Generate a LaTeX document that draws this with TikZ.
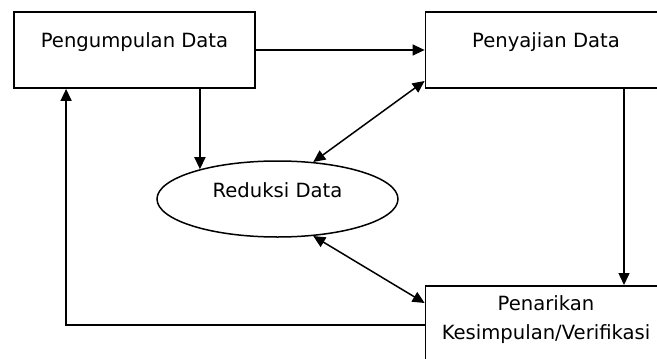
\documentclass[tikz,border=0pt]{standalone}
\usepackage{fontspec}
\setmainfont{DejaVu Sans}
\usetikzlibrary{arrows.meta, positioning, shapes.geometric}

\begin{document}
\begin{tikzpicture}[x=0.5pt, y=-0.5pt,
    font=\fontsize{9.8pt}{14.5pt}\selectfont,
    stagebox/.style={draw, line width=0.9pt, minimum width=120.5pt, minimum height=38pt,
        inner sep=0pt, text height=7pt, text depth=9pt},
    conclbox/.style={draw, line width=0.9pt, minimum width=120.5pt, align=center,
        inner ysep=5pt, text depth=25pt, anchor=north},
    ovalbox/.style={draw, ellipse, line width=0.75pt, minimum width=120.5pt, minimum height=38pt,
        inner sep=0pt, text height=7pt, text depth=9pt},
    arrowline/.style={line width=0.75pt, -{Triangle[length=6pt, width=5.5pt]}},
    twoway/.style={line width=0.75pt, {Triangle[length=6pt, width=5.5pt]}-{Triangle[length=6pt, width=5.5pt]}}]
    \useasboundingbox (0,0) rectangle (657,358);

    \node[stagebox] (pengumpulan) at (134.5,50) {Pengumpulan Data};
    \node[stagebox] (penyajian) at (546,50) {Penyajian Data};
    \node[ovalbox] (reduksi) at (277.5,199) {Reduksi Data};
    \node[conclbox] (penarikan) at (546,285) {Penarikan\\Kesimpulan/Verifikasi};

    \draw[arrowline] (pengumpulan) -- (penyajian);
    \draw[arrowline] (reduksi.159 |- pengumpulan.south) -- (reduksi.159);
    \draw[twoway] (reduksi.46) -- ([yshift=-15.5pt]penyajian.west);
    \draw[twoway] (reduksi.-46) -- ([yshift=-9pt]penarikan.north west);
    \draw[arrowline] ([xshift=39pt]penyajian.south) -- ([xshift=39pt]penarikan.north);
    \draw[arrowline] ([yshift=-20pt]penarikan.north west) -| ([xshift=26.5pt]pengumpulan.south west);
\end{tikzpicture}
\end{document}
